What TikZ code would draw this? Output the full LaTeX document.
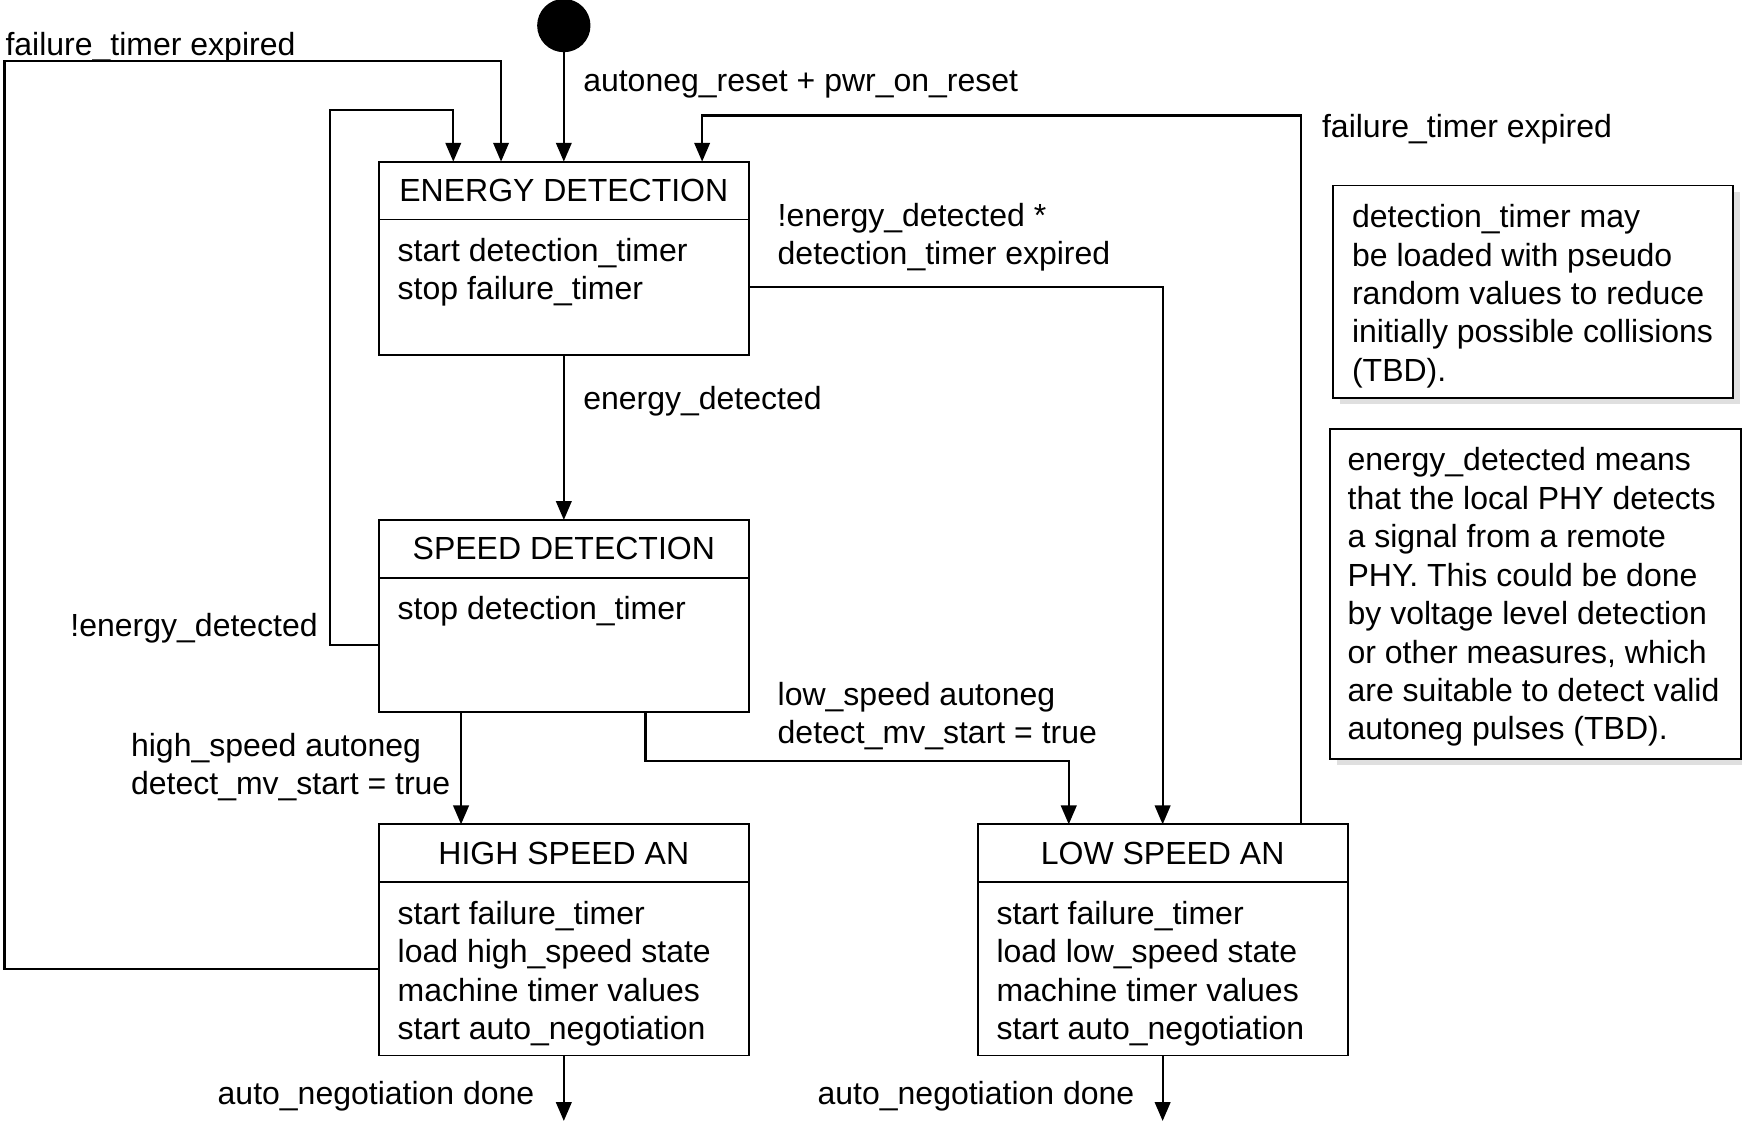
\documentclass[tikz,border=0pt]{standalone}
\usepackage{fontspec}
\setmainfont{Liberation Sans}
\usetikzlibrary{positioning, arrows.meta, shadows}

\begin{document}
\begin{tikzpicture}[x=0.5pt,y=-0.5pt,
  font=\fontsize{14.4}{17.3}\selectfont,
  every node/.style={inner sep=0pt, outer sep=0pt},
  initdot/.style={circle, fill=black, minimum size=24pt},
  headbox/.style={draw, line width=0.8pt, minimum width=166.5pt, minimum height=26pt},
  bodybox/.style={draw, line width=0.8pt, minimum width=166.5pt},
  notebox/.style={draw, line width=0.8pt, fill=white, drop shadow={shadow xshift=3pt, shadow yshift=-3pt, opacity=0.25}},
  bodytext/.style={align=left},
  arr/.style={line width=1pt, -{Triangle[length=8.5pt, width=7pt]}}]
\useasboundingbox (0,0) rectangle (1568,1010);
\node[initdot] (init) at (507.5,23) {};
% states
\node[headbox] (ed) at (507.5,171.5) {ENERGY DETECTION};
\node[bodybox, minimum height=61pt, below=0pt of ed] (edbody) {};
\node[bodytext, below right=8.5pt and 8.5pt of edbody.north west] (edtext) {start detection\_timer\\stop failure\_timer};
\node[headbox] (sd) at (507.5,494) {SPEED DETECTION};
\node[bodybox, minimum height=60.5pt, below=0pt of sd] (sdbody) {};
\node[bodytext, below right=8.5pt and 8.5pt of sdbody.north west] (sdtext) {stop detection\_timer};
\node[headbox] (hs) at (507.5,768) {HIGH SPEED AN};
\node[bodybox, minimum height=78pt, below=0pt of hs] (hsbody) {};
\node[bodytext, below right=8.5pt and 8.5pt of hsbody.north west] (hstext) {start failure\_timer\\load high\_speed state\\machine timer values\\start auto\_negotiation};
\node[headbox] (ls) at (1046.5,768) {LOW SPEED AN};
\node[bodybox, minimum height=78pt, below=0pt of ls] (lsbody) {};
\node[bodytext, below right=8.5pt and 8.5pt of lsbody.north west] (lstext) {start failure\_timer\\load low\_speed state\\machine timer values\\start auto\_negotiation};
\coordinate (hsout) at (507.5,1009);
\coordinate (lsout) at (1046.5,1009);
% notes
\node[notebox, minimum width=180pt, minimum height=95.5pt] (note1) at (1380,262.5) {};
\node[bodytext, below right=8.5pt and 8.5pt of note1.north west] (note1text) {detection\_timer may\\be loaded with pseudo\\random values to reduce\\initially possible collisions\\(TBD).};
\node[notebox, minimum width=185pt, minimum height=148.5pt] (note2) at (1382,534.5) {};
\node[bodytext, below right=8.5pt and 8pt of note2.north west] (note2text) {energy\_detected means\\that the local PHY detects\\a signal from a remote\\PHY. This could be done\\by voltage level detection\\or other measures, which\\are suitable to detect valid\\autoneg pulses (TBD).};
% transitions
\draw[arr] (init) -- (ed);
\draw[arr] (hsbody.west) -| (4,55) -| (451,0 |- ed.north);
\draw[arr] (sdbody.west) -| (297,99) -| (408,0 |- ed.north);
\draw[arr] (1171,0 |- ls.north) -- (1171,104) -| (632,0 |- ed.north);
\draw[arr] (edbody.east) -| (ls.north);
\draw[arr] (edbody) -- (sd);
\draw[arr] (415,0 |- sdbody.south) -- (415,0 |- hs.north);
\draw[arr] (581,0 |- sdbody.south) -- (581,685) -| (962,0 |- ls.north);
\draw[arr] (hsbody) -- (hsout);
\draw[arr] (lsbody) -- (lsout);
% labels
\node[anchor=base west] (lblfail1) at (5,50) {failure\_timer expired};
\node[anchor=base west] (lblreset) at (525,82) {autoneg\_reset + pwr\_on\_reset};
\node[anchor=base west] (lblfail2) at (1190,124) {failure\_timer expired};
\node[bodytext, anchor=north west] (lbltimeout) at (700,183) {!energy\_detected *\\detection\_timer expired};
\node[anchor=base west] (lblenergy) at (525,369) {energy\_detected};
\node[anchor=base east] (lblnoenergy) at (286,573) {!energy\_detected};
\node[bodytext, anchor=north west] (lbllow) at (700,614) {low\_speed autoneg\\detect\_mv\_start = true};
\node[bodytext, anchor=north west] (lblhigh) at (118,660) {high\_speed autoneg\\detect\_mv\_start = true};
\node[anchor=base east] (lblhsdone) at (481,994) {auto\_negotiation done};
\node[anchor=base east] (lbllsdone) at (1021,994) {auto\_negotiation done};
\end{tikzpicture}
\end{document}
